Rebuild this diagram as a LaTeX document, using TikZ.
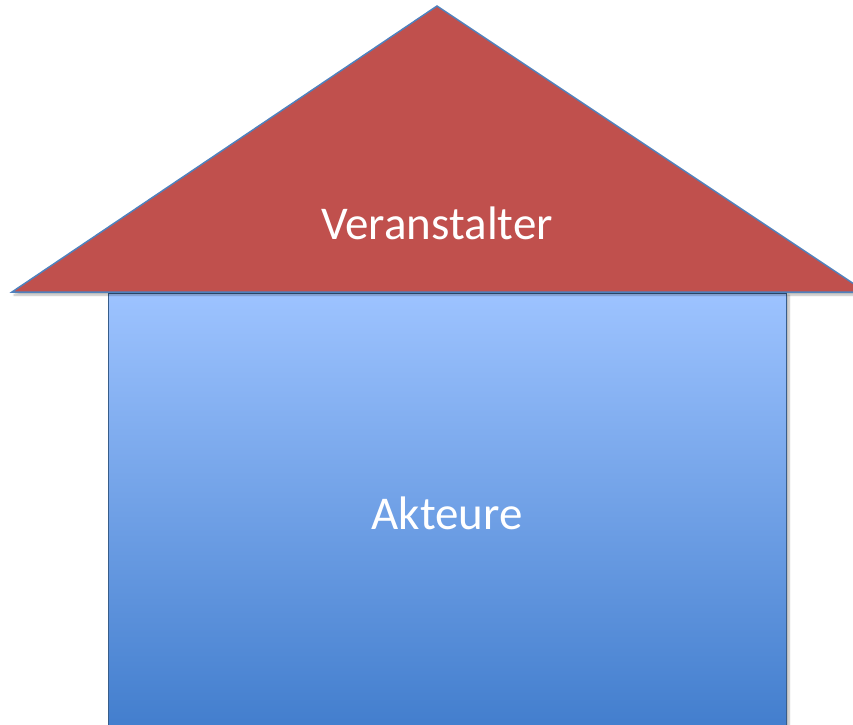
\documentclass[tikz,border=0pt]{standalone}
\usepackage{fontspec}
\setmainfont{Carlito}
\usetikzlibrary{shadows.blur}
\definecolor{roofred}{RGB}{192,80,77}
\definecolor{roofline}{RGB}{79,129,189}
\definecolor{walltop}{RGB}{157,195,255}
\definecolor{wallbot}{RGB}{64,124,204}
\definecolor{wallline}{RGB}{56,93,138}
\tikzset{
  roof/.style={fill=roofred, draw=roofline, line width=1.5pt, line join=miter,
    blur shadow={shadow xshift=2pt, shadow yshift=-3pt, shadow blur steps=6, shadow opacity=30}},
  wall/.style={top color=walltop, bottom color=wallbot, draw=wallline, line width=1pt,
    blur shadow={shadow xshift=3pt, shadow yshift=-2pt, shadow blur steps=6, shadow opacity=30}},
  label/.style={text=white, font=\fontsize{47}{56}\selectfont, inner sep=0pt}
}
\begin{document}
\begin{tikzpicture}[x=1pt, y=-1pt]
\useasboundingbox (0,0) rectangle (853,724);
\begin{scope}
\clip (0,0) rectangle (853,724);
\path[wall] (108,293) rectangle (786,740);
\path[roof] (12,292) -- (437,6) -- (866,292) -- cycle;
\end{scope}
\node[label] (v) at (437,223) {Veranstalter};
\node[label] (a) at (447,513) {Akteure};
\end{tikzpicture}
\end{document}
